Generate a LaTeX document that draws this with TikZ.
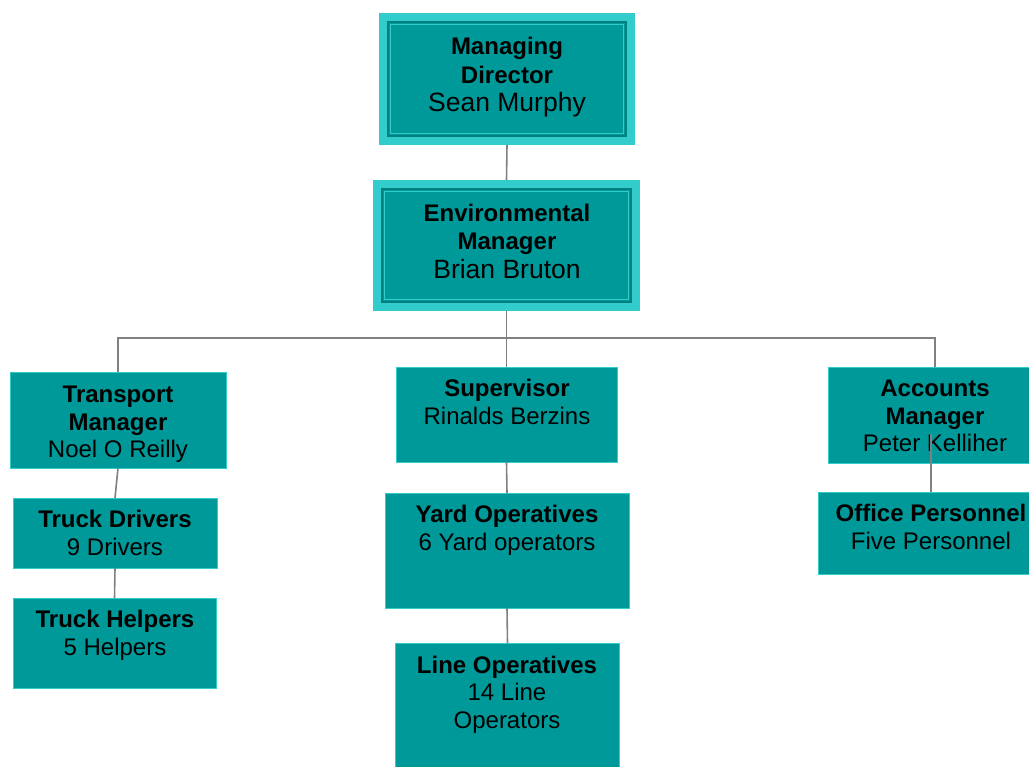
\documentclass[tikz,border=0pt]{standalone}
\usepackage{fontspec}
\setmainfont{Liberation Sans}
\definecolor{teal}{HTML}{009999}
\definecolor{lightt}{HTML}{33CCCC}
\definecolor{darkt}{HTML}{007F7F}
\definecolor{conngray}{HTML}{808080}
\newcommand\lowtext[1]{\fontsize{24}{27.5}\selectfont\begin{tabular}[t]{@{}c@{}}#1\end{tabular}}
\newcommand\toptext[2]{\fontsize{24}{28.3}\selectfont\begin{tabular}[t]{@{}c@{}}#1\\\fontsize{26.5}{28.3}\selectfont #2\end{tabular}}
\begin{document}
\begin{tikzpicture}[x=1pt,y=-1pt,
  outerbox/.style={rectangle,fill=lightt,inner sep=0pt,outer sep=0pt},
  innerbox/.style={rectangle,fill=teal,draw=darkt,line width=2pt,inner sep=0pt,outer sep=0pt},
  innerline/.style={rectangle,draw=lightt,line width=1.5pt,inner sep=0pt,outer sep=0pt},
  lowbox/.style={rectangle,fill=teal,draw=lightt,line width=0.8pt,inner sep=0pt,outer sep=0pt},
  txt/.style={anchor=base,inner sep=0pt,text=black},
  conn/.style={draw=conngray,line width=1.6pt}]
\useasboundingbox (0,0) rectangle (1029,767);
\clip (0,0) rectangle (1029,767);
% top boxes
\node[outerbox,minimum width=256pt,minimum height=132pt] (md) at (507,79) {};
\node[innerbox,minimum width=238pt,minimum height=114pt] (mdi) at (507,79) {};
\node[innerline,minimum width=233pt,minimum height=109pt] (mdl) at (507,79) {};
\node[outerbox,minimum width=267pt,minimum height=131pt] (em) at (506.5,245.5) {};
\node[innerbox,minimum width=249pt,minimum height=113pt] (emi) at (506.5,245.5) {};
\node[innerline,minimum width=244pt,minimum height=108pt] (eml) at (506.5,245.5) {};
% lower boxes
\node[lowbox,minimum width=216pt,minimum height=96pt] (tm) at (118,420) {};
\node[lowbox,minimum width=204pt,minimum height=70pt] (td) at (115,533) {};
\node[lowbox,minimum width=203pt,minimum height=90pt] (th) at (114.5,643) {};
\node[lowbox,minimum width=221pt,minimum height=95pt] (sup) at (506.5,414.5) {};
\node[lowbox,minimum width=244pt,minimum height=115pt] (yard) at (507,550.5) {};
\node[lowbox,minimum width=224pt,minimum height=130pt] (line) at (507.5,708) {};
\node[lowbox,minimum width=206pt,minimum height=96pt] (acc) at (931,415) {};
\node[lowbox,minimum width=216pt,minimum height=82pt] (off) at (926,533) {};
% connectors
\coordinate (busL) at (118,338);
\coordinate (busR) at (935,338);
\coordinate (kstart) at (931,434);
\draw[conn] (md.south) -- (em.north);
\draw[conn] (em.south) -- (sup.north);
\draw[conn] (tm.north) -- (busL) -- (busR) -- (busR |- acc.north);
\draw[conn] (tm.south) -- (td.north);
\draw[conn] (td.south) -- (th.north);
\draw[conn] (sup.south) -- (yard.north);
\draw[conn] (yard.south) -- (line.north);
% texts
\node[txt] (mdt) at (507,55) {\toptext{\textbf{Managing}\\\textbf{Director}}{Sean Murphy}};
\node[txt] (emt) at (507,221.7) {\toptext{\textbf{Environmental}\\\textbf{Manager}}{Brian Bruton}};
\node[txt] (tmt) at (118,402.7) {\lowtext{\textbf{Transport}\\\textbf{Manager}\\Noel O Reilly}};
\node[txt] (tdt) at (115,527.7) {\lowtext{\textbf{Truck Drivers}\\9 Drivers}};
\node[txt] (tht) at (115,627.7) {\lowtext{\textbf{Truck Helpers}\\5 Helpers}};
\node[txt] (supt) at (507,396.7) {\lowtext{\textbf{Supervisor}\\Rinalds Berzins}};
\node[txt] (yardt) at (507,522.7) {\lowtext{\textbf{Yard Operatives}\\6 Yard operators}};
\node[txt] (linet) at (507,673.3) {\lowtext{\textbf{Line Operatives}\\14 Line\\Operators}};
\node[txt] (acct) at (935,396.7) {\lowtext{\textbf{Accounts}\\\textbf{Manager}\\Peter Kelliher}};
\node[txt] (offt) at (931,521.7) {\lowtext{\textbf{Office Personnel}\\Five Personnel}};
\draw[conn] (kstart) -- (kstart |- off.north);
\end{tikzpicture}
\end{document}
